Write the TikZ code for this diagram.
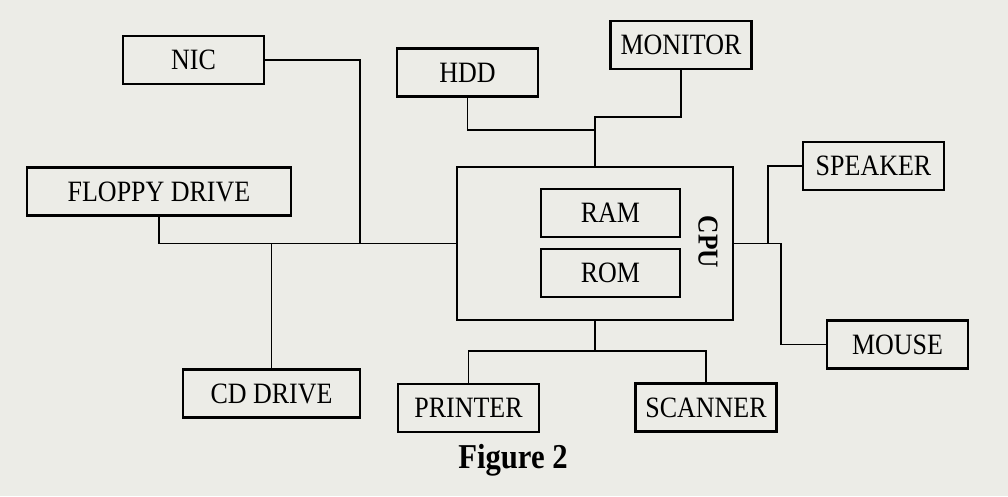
\documentclass[tikz,border=0pt]{standalone}
\usepackage{fontspec}
\setmainfont[FakeStretch=0.88]{Liberation Serif}
\usepackage{tikz}
\usetikzlibrary{arrows.meta,positioning,calc}
\definecolor{paper}{RGB}{236,236,231}

\begin{document}
\begin{tikzpicture}[x=0.025cm,y=-0.025cm]
\tikzset{unit/.style={draw,line width=1.5pt,minimum width=3.525cm,minimum height=1.2cm,inner sep=0pt,font=\fontsize{21}{25}\selectfont},
  wire/.style={line width=1.1pt}}
\fill[paper] (0,0) rectangle (1008,496);
\useasboundingbox (0,0) rectangle (1008,496);
\node[unit] (nic) at (193.5,60) {NIC};
\node[unit] (hdd) at (467.5,72.5) {HDD};
\node[unit] (monitor) at (681,45) {MONITOR};
\node[unit,minimum width=6.6cm] (floppy) at (159,191.5) {FLOPPY DRIVE};
\node[unit] (speaker) at (873.5,166) {SPEAKER};
\node[unit,minimum width=6.9cm,minimum height=3.825cm] (cpu) at (595,243.5) {};
\node[unit,minimum width=3.475cm] (ram) at (610.5,213) {RAM};
\node[unit,minimum width=3.475cm] (rom) at (610.5,273) {ROM};
\node[rotate=-90,font=\fontsize{20.5}{24}\selectfont\bfseries] (cpulabel) at (708,242) {CPU};
\node[unit] (mouse) at (897.5,344.5) {MOUSE};
\node[unit,minimum width=4.425cm] (cd) at (271.5,393.5) {CD DRIVE};
\node[unit] (printer) at (468.5,408) {PRINTER};
\node[unit] (scanner) at (706,407.5) {SCANNER};
\node[font=\fontsize{24.8}{29}\selectfont\bfseries] (caption) at (513,460) {Figure 2};
% junctions
\coordinate (nj) at (360,243.5);
\coordinate (mj) at (595,117);
\coordinate (hj) at (595,130);
\coordinate (bj) at (595,351);
\coordinate (rj) at (781,243.5);
\coordinate (sj) at (768,243.5);
\draw[wire] (floppy.south) |- (cpu.west);
\draw[wire] (nic.east) -| (nj);
\draw[wire] (cd.north) -- (cd.north |- cpu.west);
\draw[wire] (monitor.south) |- (mj) -- (cpu.north);
\draw[wire] (hdd.south) |- (hj);
\draw[wire] (cpu.south) -- (bj); \draw[wire] (printer.north) |- (bj) -| (scanner.north);
\draw[wire] (cpu.east) -- (rj) |- (mouse.west); \draw[wire] (speaker.west) -| (sj);
\end{tikzpicture}
\end{document}
